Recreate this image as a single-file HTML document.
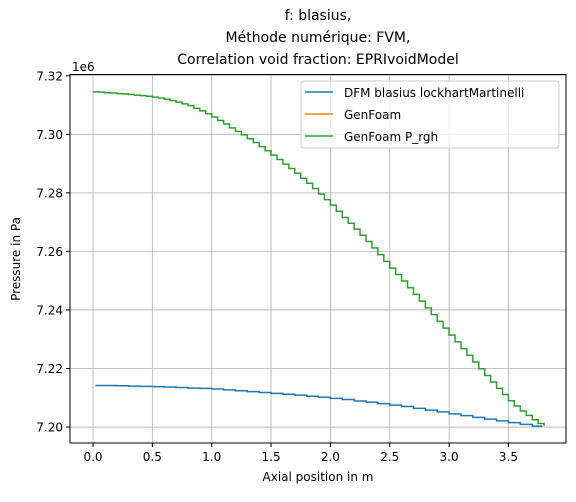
<!DOCTYPE html>
<html><head><meta charset="utf-8"><style>
body{margin:0;background:#fff;}
svg text{font-family:"DejaVu Sans","Liberation Sans",sans-serif;}
</style></head><body>
<svg id="chart" width="576" height="497" xmlns="http://www.w3.org/2000/svg">
<rect width="576" height="497" fill="#fff"/>
<g font-size="14" text-anchor="middle" fill="#000">
<text x="318" y="20">f: blasius,</text>
<text x="318" y="42">Méthode numérique: FVM,</text>
<text x="318" y="64">Correlation void fraction: EPRIvoidModel</text>
</g>
<g id="grid"></g>
<g id="series"></g>
<rect x="70" y="74.5" width="496" height="368.5" fill="none" stroke="#000" stroke-width="1"/>
<g id="ticks" font-size="12" fill="#000"></g>
<text x="72" y="71" font-size="12">1e6</text>
<text x="318" y="481" font-size="12" text-anchor="middle">Axial position in m</text>
<text transform="translate(20,259) rotate(-90)" font-size="12" text-anchor="middle">Pressure in Pa</text>
<g>
<rect x="301" y="81" width="258" height="67" rx="3" fill="#fff" fill-opacity="0.8" stroke="#ccc"/>
<line x1="305" y1="92" x2="333" y2="92" stroke="#1f77b4" stroke-width="1.5"/>
<text x="344" y="97" font-size="12">DFM blasius lockhartMartinelli</text>
<line x1="305" y1="114" x2="333" y2="114" stroke="#ff7f0e" stroke-width="1.5"/>
<text x="344" y="119" font-size="12">GenFoam</text>
<line x1="305" y1="136" x2="333" y2="136" stroke="#2ca02c" stroke-width="1.5"/>
<text x="344" y="141" font-size="12">GenFoam P_rgh</text>
</g>
</svg>
<script>
const xTicks=[0,0.5,1.0,1.5,2.0,2.5,3.0,3.5];
const xTickLabels=["0.0","0.5","1.0","1.5","2.0","2.5","3.0","3.5"];
const yTicks=[7.20,7.22,7.24,7.26,7.28,7.30,7.32];
const yTickLabels=["7.20","7.22","7.24","7.26","7.28","7.30","7.32"];
const greenX=[0,0.05,0.1,0.15,0.2,0.25,0.3,0.35,0.4,0.45,0.5,0.55,0.6,0.65,0.7,0.75,0.8,0.85,0.9,0.95,1.0,1.05,1.1,1.15,1.2,1.25,1.3,1.35,1.4,1.45,1.5,1.55,1.6,1.65,1.7,1.75,1.8,1.85,1.9,1.95,2.0,2.05,2.1,2.15,2.2,2.25,2.3,2.35,2.4,2.45,2.5,2.55,2.6,2.65,2.7,2.75,2.8,2.85,2.9,2.95,3.0,3.05,3.1,3.15,3.2,3.25,3.3,3.35,3.4,3.45,3.5,3.55,3.6,3.65,3.7,3.75,3.8];
const greenY=[7.3145,7.3144,7.3142,7.3141,7.3139,7.3138,7.3136,7.3134,7.3132,7.3130,7.3127,7.3124,7.3120,7.3115,7.3110,7.3104,7.3098,7.3089,7.3080,7.3070,7.3059,7.3047,7.3035,7.3022,7.3010,7.2998,7.2985,7.2972,7.2958,7.2944,7.2929,7.2914,7.2898,7.2883,7.2867,7.2850,7.2833,7.2815,7.2796,7.2777,7.2758,7.2737,7.2716,7.2696,7.2676,7.2655,7.2634,7.2612,7.2589,7.2566,7.2543,7.2521,7.2499,7.2476,7.2453,7.2430,7.2407,7.2384,7.2361,7.2338,7.2314,7.2291,7.2268,7.2245,7.2222,7.2199,7.2176,7.2154,7.2132,7.2111,7.2090,7.2072,7.2055,7.2040,7.2025,7.2012,7.2005];
const blueX=[0.02,0.1,0.2,0.3,0.4,0.5,0.6,0.7,0.8,0.9,1.0,1.1,1.2,1.3,1.4,1.5,1.6,1.7,1.8,1.9,2.0,2.1,2.2,2.3,2.4,2.5,2.6,2.7,2.8,2.9,3.0,3.1,3.2,3.3,3.4,3.5,3.6,3.7,3.78];
const blueY=[7.2142,7.2142,7.2141,7.2140,7.2139,7.2138,7.2137,7.2135,7.2133,7.2132,7.2130,7.2127,7.2124,7.2121,7.2118,7.2115,7.2112,7.2109,7.2105,7.2102,7.2098,7.2094,7.2089,7.2085,7.2080,7.2075,7.2070,7.2064,7.2058,7.2052,7.2045,7.2039,7.2033,7.2027,7.2021,7.2015,7.2009,7.2003,7.2000];
const NS="http://www.w3.org/2000/svg";
function sx(v){return 93+v*118.7;}
function sy(v){return 134.3+(7.30-v)/0.02*58.55;}
const grid=document.getElementById('grid'),ticks=document.getElementById('ticks'),ser=document.getElementById('series');
function mk(tag,attrs,parent){const e=document.createElementNS(NS,tag);for(const k in attrs)e.setAttribute(k,attrs[k]);parent.appendChild(e);return e;}
xTicks.forEach((t,i)=>{const x=sx(t);
 const g=mk('line',{x1:x,x2:x,y1:74.5,y2:443,stroke:'#b0b0b0','stroke-width':0.8},grid);
 
 
 mk('line',{x1:x,x2:x,y1:443,y2:447,stroke:'#000'},ticks);
 const tx=mk('text',{x:x,y:461,'text-anchor':'middle'},ticks);tx.textContent=xTickLabels[i];
 
 
});
yTicks.forEach((t,i)=>{const y=sy(t);
 const g=mk('line',{x1:70,x2:566,y1:y,y2:y,stroke:'#b0b0b0','stroke-width':0.8},grid);
 
 
 mk('line',{x1:66,x2:70,y1:y,y2:y,stroke:'#000'},ticks);
 const tx=mk('text',{x:63,y:y+4.5,'text-anchor':'end'},ticks);tx.textContent=yTickLabels[i];
 
 
});
function stepPath(xs,ys){let d='M'+sx(xs[0])+','+sy(ys[0]);for(let i=1;i<xs.length;i++){d+=' H'+sx(xs[i])+' V'+sy(ys[i]);}return d;}
const b=mk('path',{d:stepPath(blueX,blueY),fill:'none',stroke:'#1f77b4','stroke-width':1.5},ser);


const g=mk('path',{d:stepPath(greenX,greenY),fill:'none',stroke:'#2ca02c','stroke-width':1.5},ser);


</script>
</body></html>
